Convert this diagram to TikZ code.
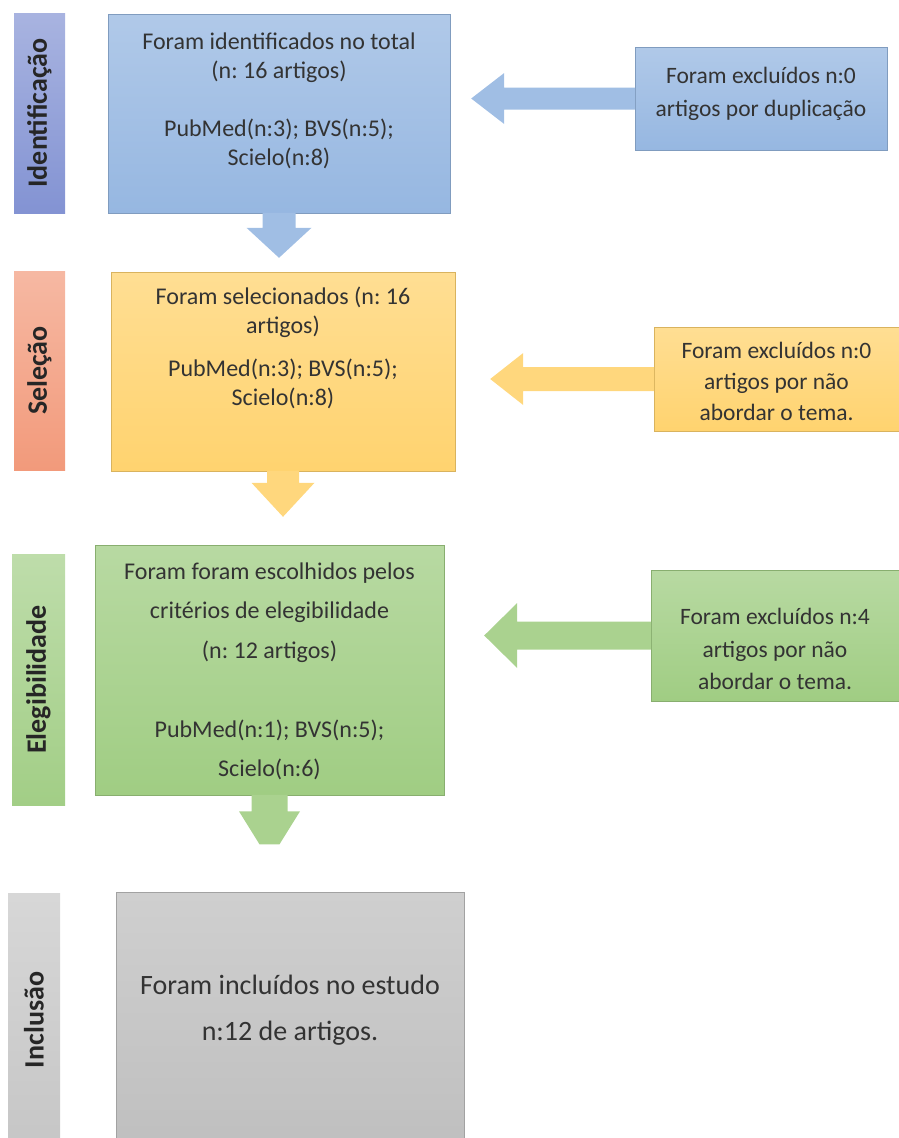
\documentclass[tikz,border=0pt]{standalone}
\usepackage{fontspec}
\setmainfont{Carlito}
\usepackage{tikz}
\usetikzlibrary{calc}
\frenchspacing

\definecolor{azul}{HTML}{96B7E1}
\definecolor{amarelo}{HTML}{FFD36F}
\definecolor{verde}{HTML}{A0CD83}
\definecolor{cinza}{HTML}{BFBFBF}
\definecolor{lilas}{HTML}{8393D3}
\definecolor{salmao}{HTML}{F29A7B}
\definecolor{verdeE}{HTML}{A2CE86}
\definecolor{cinzaE}{HTML}{C6C6C6}

\begin{document}
\begin{tikzpicture}[x=1pt, y=-1pt,
    etapa/.style={rectangle, rotate=90, inner sep=0pt, top color=#1!70!white, bottom color=#1,
      font=\fontsize{28}{30}\selectfont\bfseries, text=black!85},
    caixa/.style={rectangle, inner sep=0pt, draw=#1!85!black, line width=0.6pt,
      top color=#1!75!white, bottom color=#1},
    texto/.style={align=center, inner sep=0pt, text=black!80, font=\fontsize{24}{#1}\selectfont},
    seta/.style={fill=#1!90!white}]
                \clip (0,0) rectangle (899,1138);

                % etapas
                \node[etapa=lilas, minimum width=200pt, minimum height=51pt] (idlbl) at (39.5,113) {Identificação};
                \node[etapa=salmao, minimum width=199pt, minimum height=51pt] (sellbl) at (39.5,370.5) {Seleção};
                \node[etapa=verdeE, minimum width=251pt, minimum height=53pt] (elelbl) at (38.5,679.5) {Elegibilidade};
                \node[etapa=cinzaE, minimum width=254pt, minimum height=52pt] (inclbl) at (34,1020) {Inclusão};

                % caixas principais
                \node[caixa=azul, minimum width=342pt, minimum height=199pt] (idbox) at (279,113.5) {};
                \node[caixa=amarelo, minimum width=344pt, minimum height=199pt] (selbox) at (283,371.5) {};
                \node[caixa=verde, minimum width=349pt, minimum height=250pt] (elebox) at (269.5,670) {};
                \node[caixa=cinza, minimum width=348pt, minimum height=258pt] (incbox) at (290,1021) {};

                \node[texto=29] (idtxt) at (279,100.5) {Foram identificados no total\\(n: 16 artigos)\\[29pt]PubMed(n:3); BVS(n:5);\\Scielo(n:8)};
                \node[texto=29] (seltxt) at (283,347.5) {Foram selecionados (n: 16\\artigos)\\[14pt]PubMed(n:3); BVS(n:5);\\Scielo(n:8)};
                \node[texto=39.5] (eletxt) at (269.5,671.5) {Foram foram escolhidos pelos\\critérios de elegibilidade\\(n: 12 artigos)\\[39.5pt]PubMed(n:1); BVS(n:5);\\Scielo(n:6)};
                \node[texto=46, font=\fontsize{28}{46}\selectfont] (inctxt) at (290,1010) {Foram incluídos no estudo\\n:12 de artigos.};

                % caixas de exclusao
                \node[caixa=azul, minimum width=252pt, minimum height=103pt] (idexc) at (761,98.5) {};
                \node[caixa=amarelo, minimum width=245pt, minimum height=104pt] (selexc) at (776.5,379) {};
                \node[caixa=verde, minimum width=248pt, minimum height=131pt] (eleexc) at (775,635.5) {};

                \node[texto=33, font=\fontsize{23.5}{33}\selectfont] (idexctxt) at (761,93.5) {Foram excluídos n:0\\artigos por duplicação};
                \node[texto=31, font=\fontsize{23.5}{31}\selectfont] (selexctxt) at (776.5,381) {Foram excluídos n:0\\artigos por não\\abordar o tema.};
                \node[texto=32.5, font=\fontsize{23.5}{32.5}\selectfont] (eleexctxt) at (775,649) {Foram excluídos n:4\\artigos por não\\abordar o tema.};

                % setas para baixo
                \foreach \b/\c/\s/\a/\h/\t in {idbox/azul/16.5/15/32.5/30, selbox/amarelo/16/12/31.5/34} {
                    \fill[seta=\c] (\b.south) ++(-\s,-0.5) -- ++(0,\a) -- ++({\s-\h},0) -- ++(\h,\t) -- ++(\h,-\t) -- ++({\s-\h},0) -- ++(0,-\a) -- cycle;
                }
                \fill[seta=verde] (elebox.south) ++(-18,-0.5) -- ++(0,16.5) -- ++(-12.5,0) -- ++(20.5,33) -- ++(20,0) -- ++(20.5,-33) -- ++(-12.5,0) -- ++(0,-16.5) -- cycle;

                % setas para a esquerda
                \foreach \b/\c/\s/\h/\l in {idexc/azul/11/25.5/131, selexc/amarelo/12/26/131, eleexc/verde/14/32.5/134} {
                    \fill[seta=\c] (\b.west) ++(0.5,-\s) -- ++(-\l,0) -- ++(0,{\s-\h}) -- ++(-33,\h) -- ++(33,\h) -- ++(0,{\s-\h}) -- ++(\l,0) -- cycle;
                }
            \end{tikzpicture}
\end{document}
